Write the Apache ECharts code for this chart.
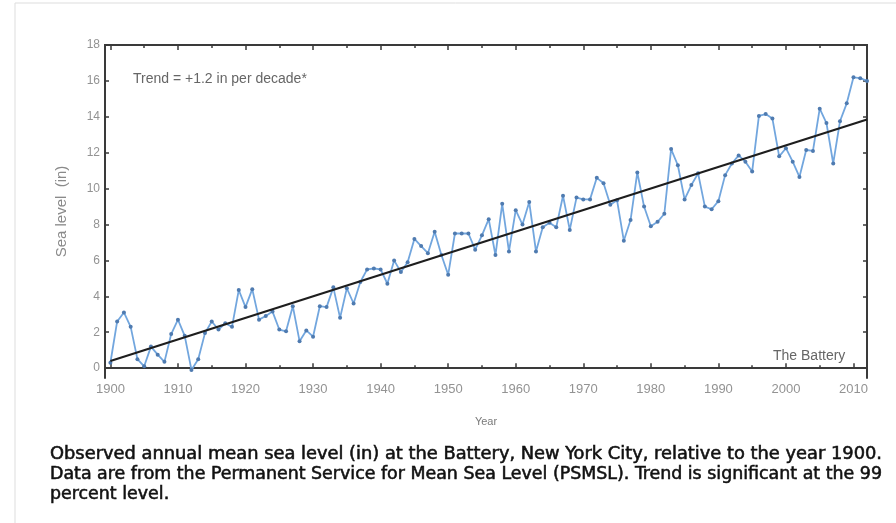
<!DOCTYPE html>
<html>
<head>
<meta charset="utf-8">
<title>Sea level at the Battery, New York City</title>
<script src="https://cdn.jsdelivr.net/npm/echarts@6/dist/echarts.min.js"></script>
<style>
  html, body { margin: 0; padding: 0; background: #ffffff; }
  #chart { width: 896px; height: 523px; }
</style>
</head>
<body>
<div id="chart"></div>
<script>
// Annual mean sea level (in) at the Battery, relative to 1900
const years = [
  1900, 1901, 1902, 1903, 1904, 1905, 1906, 1907, 1908, 1909,
  1910, 1911, 1912, 1913, 1914, 1915, 1916, 1917, 1918, 1919,
  1920, 1921, 1922, 1923, 1924, 1925, 1926, 1927, 1928, 1929,
  1930, 1931, 1932, 1933, 1934, 1935, 1936, 1937, 1938, 1939,
  1940, 1941, 1942, 1943, 1944, 1945, 1946, 1947, 1948, 1949,
  1950, 1951, 1952, 1953, 1954, 1955, 1956, 1957, 1958, 1959,
  1960, 1961, 1962, 1963, 1964, 1965, 1966, 1967, 1968, 1969,
  1970, 1971, 1972, 1973, 1974, 1975, 1976, 1977, 1978, 1979,
  1980, 1981, 1982, 1983, 1984, 1985, 1986, 1987, 1988, 1989,
  1990, 1991, 1992, 1993, 1994, 1995, 1996, 1997, 1998, 1999,
  2000, 2001, 2002, 2003, 2004, 2005, 2006, 2007, 2008, 2009,
  2010, 2011, 2012
];
const seaLevel = [
  0.3, 2.6, 3.1, 2.3, 0.5, 0.1, 1.2, 0.75, 0.35, 1.9,
  2.7, 1.8, -0.1, 0.5, 1.95, 2.6, 2.15, 2.5, 2.3, 4.35,
  3.4, 4.4, 2.7, 2.9, 3.15, 2.15, 2.05, 3.45, 1.5, 2.1,
  1.75, 3.45, 3.4, 4.5, 2.8, 4.45, 3.6, 4.8, 5.5, 5.55,
  5.5, 4.7, 6.0, 5.35, 5.9, 7.2, 6.8, 6.4, 7.6, 6.3,
  5.2, 7.5, 7.5, 7.5, 6.6, 7.4, 8.3, 6.3, 9.15, 6.5,
  8.8, 8.0, 9.25, 6.5, 7.85, 8.1, 7.85, 9.6, 7.7, 9.5,
  9.4, 9.4, 10.6, 10.3, 9.1, 9.35, 7.1, 8.25, 10.9, 9.0,
  7.9, 8.15, 8.6, 12.2, 11.3, 9.4, 10.2, 10.85, 9.0, 8.85,
  9.3, 10.75, 11.4, 11.85, 11.5, 10.95, 14.05, 14.15, 13.9, 11.8,
  12.25, 11.5, 10.65, 12.15, 12.1, 14.45, 13.65, 11.4, 13.75, 14.75,
  16.2, 16.15, 16.0
];

// Linear trend (+1.2 in per decade) end points
const trendYears = [1900, 2012];
const trendLevel = [0.4, 13.85];

// Axis ticks and labels
const decadeTicks = [1900, 1910, 1920, 1930, 1940, 1950, 1960, 1970, 1980, 1990, 2000, 2010];
const halfDecadeTicks = [1905, 1915, 1925, 1935, 1945, 1955, 1965, 1975, 1985, 1995, 2005];
const levelTicks = [0, 2, 4, 6, 8, 10, 12, 14, 16, 18];

// Text
const trendNote = 'Trend = +1.2 in per decade*';
const stationName = 'The Battery';
const yAxisTitle = 'Sea level  (in)';
const xAxisTitle = 'Year';
const captionLines = [
  'Observed annual mean sea level (in) at the Battery, New York City, relative to the year 1900.',
  'Data are from the Permanent Service for Mean Sea Level (PSMSL). Trend is significant at the 99',
  'percent level.'
];

const axisColor = '#3a3a3a';
const labelColor = '#939393';
const X_MIN = 1899.2, X_MAX = 2012;
const Y_MIN = -0.55, Y_MAX = 18;

// Caption lines are fitted horizontally so the full lines fill the text block
const captionFont = '17px "DejaVu Sans Condensed"';
const captionWidth = 832;
const measureCtx = document.createElement('canvas').getContext('2d');
measureCtx.font = captionFont;
const scale1 = captionWidth / measureCtx.measureText(captionLines[0]).width;
const scale2 = captionWidth / measureCtx.measureText(captionLines[1]).width;
const captionScales = [scale1, scale2, scale2];

function xAxisDef(pos, ticks, len, withLabels) {
  return {
    type: 'value', position: pos, min: X_MIN, max: X_MAX,
    axisLine: { show: true, lineStyle: { color: axisColor, width: 2 } },
    axisTick: { show: true, inside: true, length: len, customValues: ticks,
                lineStyle: { color: axisColor, width: 1.5 } },
    axisLabel: withLabels ? {
      show: true, customValues: ticks, color: labelColor, fontSize: 13,
      fontFamily: 'Liberation Sans', margin: 5, formatter: v => String(v)
    } : { show: false },
    splitLine: { show: false },
    name: withLabels ? xAxisTitle : '',
    nameLocation: 'middle', nameGap: 38,
    nameTextStyle: { color: '#7a7a7a', fontSize: 11, fontFamily: 'Liberation Sans' }
  };
}

function yAxisDef(pos, withLabels) {
  return {
    type: 'value', position: pos, min: Y_MIN, max: Y_MAX,
    axisLine: { show: true, lineStyle: { color: axisColor, width: 2 } },
    axisTick: { show: true, inside: true, length: 4, customValues: levelTicks,
                lineStyle: { color: axisColor, width: 1.5 } },
    axisLabel: withLabels ? {
      show: true, customValues: levelTicks, color: labelColor, fontSize: 12,
      fontFamily: 'Liberation Sans', margin: 5
    } : { show: false },
    splitLine: { show: false },
    name: withLabels ? yAxisTitle : '',
    nameLocation: 'middle', nameGap: 36, nameRotate: 90,
    nameTextStyle: { color: '#8a8a8a', fontSize: 15, fontFamily: 'Liberation Sans' }
  };
}

const chart = echarts.init(document.getElementById('chart'), null, { renderer: 'canvas' });

chart.setOption({
  backgroundColor: '#ffffff',
  animation: false,
  grid: { left: 105, top: 45, width: 762, height: 333, containLabel: false },
  xAxis: [
    xAxisDef('bottom', decadeTicks, 5, true),
    xAxisDef('bottom', halfDecadeTicks, 3, false),
    xAxisDef('top', decadeTicks, 5, false),
    xAxisDef('top', halfDecadeTicks, 3, false)
  ],
  yAxis: [
    yAxisDef('left', true),
    yAxisDef('right', false)
  ],
  series: [
    {
      type: 'line',
      xAxisIndex: 0, yAxisIndex: 0,
      data: years.map((y, i) => [y, seaLevel[i]]),
      showSymbol: true, symbol: 'circle', symbolSize: 4,
      lineStyle: { color: '#72a6de', width: 1.8 },
      itemStyle: { color: '#4f7bb0' },
      z: 2
    },
    {
      type: 'line',
      xAxisIndex: 0, yAxisIndex: 0,
      data: trendYears.map((y, i) => [y, trendLevel[i]]),
      showSymbol: false,
      lineStyle: { color: '#1e1e1e', width: 2.2 },
      z: 3
    }
  ],
  graphic: [
    { type: 'line', shape: { x1: 15, y1: 3, x2: 896, y2: 3 },
      style: { stroke: '#dddddd', lineWidth: 1 }, silent: true },
    { type: 'line', shape: { x1: 15, y1: 3, x2: 15, y2: 523 },
      style: { stroke: '#dddddd', lineWidth: 1 }, silent: true },
    { type: 'text', left: 133, top: 72,
      style: { text: trendNote, fill: '#666', fontSize: 14, fontFamily: 'Liberation Sans' } },
    { type: 'text', left: 773, top: 349,
      style: { text: stationName, fill: '#666', fontSize: 14, fontFamily: 'Liberation Sans' } },
    ...captionLines.map((t, i) => ({
      type: 'text', x: 50, y: 446 + i * 20, scaleX: captionScales[i], scaleY: 1,
      style: { text: t, x: 0, y: 0, verticalAlign: 'top', fill: '#111', font: captionFont,
               stroke: '#111', lineWidth: 0.5 }
    }))
  ]
});
</script>
</body>
</html>
